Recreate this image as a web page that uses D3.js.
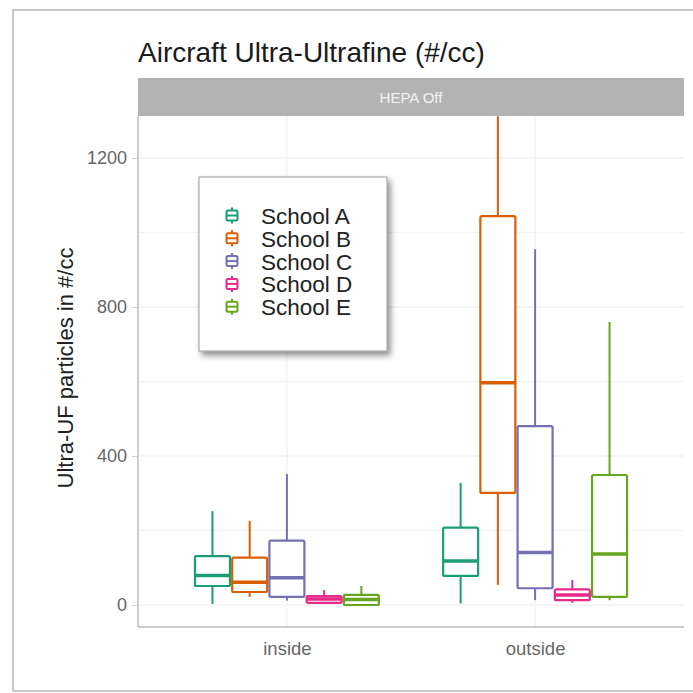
<!DOCTYPE html>
<html>
<head>
<meta charset="utf-8">
<script src="https://cdn.jsdelivr.net/npm/d3@7"></script>
<style>
  html, body { margin: 0; padding: 0; background: #fff; }
  svg { display: block; font-family: "Liberation Sans", Arial, sans-serif; }
</style>
</head>
<body>
<svg id="chart" width="693" height="693"></svg>
<script>
// Locations on the x axis and the schools dodged within each location
const locations = ["inside", "outside"];
const schools = ["School A", "School B", "School C", "School D", "School E"];
const schoolColors = ["#1B9E77", "#D95F02", "#7570B3", "#E7298A", "#66A61E"];

// Box statistics per school: [lower whisker, Q1, median, Q3, upper whisker]
const insideStats = [
  [3, 51, 79, 131, 252],
  [22, 35, 61, 127, 226],
  [12, 22, 73, 173, 352],
  [3, 6, 16, 24, 40],
  [0, 0, 15, 27, 51]
];
const outsideStats = [
  [4, 78, 118, 208, 328],
  [54, 301, 597, 1044, 1312],
  [13, 45, 141, 480, 955],
  [6, 13, 27, 42, 67],
  [13, 22, 137, 349, 760]
];

const yTicks = [0, 400, 800, 1200];
const yMinorTicks = [200, 600, 1000];

const titleText = "Aircraft Ultra-Ultrafine (#/cc)";
const stripText = "HEPA Off";
const yAxisTitle = "Ultra-UF particles in #/cc";

const svg = d3.select("#chart");

// soft drop shadow for the legend box
const defs = svg.append("defs");
const sh = defs.append("filter").attr("id", "shadow")
  .attr("x", "-20%").attr("y", "-20%").attr("width", "150%").attr("height", "150%");
sh.append("feDropShadow").attr("dx", 3).attr("dy", 4).attr("stdDeviation", 3)
  .attr("flood-color", "#000").attr("flood-opacity", 0.45);

// outer frame
svg.append("rect").attr("x", 13).attr("y", 10).attr("width", 700).attr("height", 681)
  .attr("fill", "#fff").attr("stroke", "#c8c8c8").attr("stroke-width", 2);

// panel geometry
const panel = { left: 138, right: 684, top: 116, bottom: 627 };

const x = d3.scalePoint().domain(locations)
  .range([panel.left, panel.right]).padding(0.6);
const dodge = d3.scaleBand().domain(schools)
  .range([-x.step() * 0.375, x.step() * 0.375]);
const y = d3.scaleLinear().domain([-59, 1312.8]).range([panel.bottom, panel.top]);

// title
svg.append("text").attr("x", panel.left).attr("y", 62)
  .attr("font-size", 28).attr("fill", "#1a1a1a").text(titleText);

// facet strip
svg.append("rect").attr("x", panel.left).attr("y", 78)
  .attr("width", panel.right - panel.left).attr("height", panel.top - 78)
  .attr("fill", "#b3b3b3");
svg.append("text").attr("x", (panel.left + panel.right) / 2).attr("y", 103)
  .attr("text-anchor", "middle").attr("font-size", 15).attr("fill", "#f2f2f2")
  .text(stripText);

// gridlines
const grid = svg.append("g");
grid.selectAll("line.minor").data(yMinorTicks).join("line")
  .attr("x1", panel.left).attr("x2", panel.right)
  .attr("y1", d => y(d)).attr("y2", d => y(d))
  .attr("stroke", "#f3f3f3").attr("stroke-width", 1);
grid.selectAll("line.major").data(yTicks).join("line")
  .attr("x1", panel.left).attr("x2", panel.right)
  .attr("y1", d => y(d)).attr("y2", d => y(d))
  .attr("stroke", "#ebebeb").attr("stroke-width", 1.2);
grid.selectAll("line.vx").data(locations).join("line")
  .attr("x1", d => x(d)).attr("x2", d => x(d))
  .attr("y1", panel.top).attr("y2", panel.bottom)
  .attr("stroke", "#f1f1f1").attr("stroke-width", 1.2);

// y axis
const yAxis = svg.append("g").attr("transform", `translate(${panel.left},0)`)
  .call(d3.axisLeft(y).tickValues(yTicks).tickFormat(d3.format("d"))
    .tickSize(6).tickPadding(5));
yAxis.select(".domain").attr("stroke", "#bdbdbd").attr("stroke-width", 1.5)
  .attr("d", `M0,${panel.top}V${panel.bottom}`);
yAxis.selectAll(".tick line").attr("stroke", "#cfcfcf");
yAxis.selectAll(".tick text").attr("font-size", 18).attr("fill", "#666")
  .attr("font-family", "Liberation Sans, Arial, sans-serif");

// x axis
const xAxis = svg.append("g").attr("transform", `translate(0,${panel.bottom})`)
  .call(d3.axisBottom(x).tickSize(0));
xAxis.select(".domain").attr("stroke", "#bdbdbd").attr("stroke-width", 1.5)
  .attr("d", `M${panel.left},0H${panel.right}`);
xAxis.selectAll(".tick text").attr("font-size", 18.5).attr("fill", "#666")
  .attr("y", 28).attr("dy", 0)
  .attr("font-family", "Liberation Sans, Arial, sans-serif");

// y axis title
svg.append("text")
  .attr("transform", `translate(73,368) rotate(-90)`)
  .attr("text-anchor", "middle").attr("font-size", 22).attr("fill", "#222")
  .text(yAxisTitle);

// boxplots
const statsByLocation = { inside: insideStats, outside: outsideStats };
const boxW = dodge.bandwidth() * 0.94;
const plot = svg.append("g");
locations.forEach(loc => {
  const g = plot.append("g");
  statsByLocation[loc].forEach((s, i) => {
    const cx = x(loc) + dodge(schools[i]) + dodge.bandwidth() / 2;
    const col = schoolColors[i];
    const [lo, q1, med, q3, hi] = s;
    g.append("line").attr("x1", cx).attr("x2", cx).attr("y1", y(hi)).attr("y2", y(q3))
      .attr("stroke", col).attr("stroke-width", 2);
    g.append("line").attr("x1", cx).attr("x2", cx).attr("y1", y(q1)).attr("y2", y(lo))
      .attr("stroke", col).attr("stroke-width", 2);
    g.append("rect").attr("x", cx - boxW / 2).attr("y", y(q3))
      .attr("width", boxW).attr("height", Math.max(1, y(q1) - y(q3)))
      .attr("fill", "#fff").attr("stroke", col).attr("stroke-width", 2.2)
      .attr("rx", 1.5);
    g.append("line").attr("x1", cx - boxW / 2).attr("x2", cx + boxW / 2)
      .attr("y1", y(med)).attr("y2", y(med))
      .attr("stroke", col).attr("stroke-width", 3.5);
  });
});

// legend
const legend = svg.append("g").attr("transform", "translate(199,177)");
legend.append("rect").attr("width", 188).attr("height", 174)
  .attr("fill", "#fff").attr("stroke", "#9a9a9a").attr("stroke-width", 1)
  .attr("filter", "url(#shadow)");
schools.forEach((name, i) => {
  const row = legend.append("g").attr("transform", `translate(33,${38.5 + i * 22.8})`);
  const col = schoolColors[i];
  row.append("line").attr("x1", 0).attr("x2", 0).attr("y1", -8).attr("y2", 8)
    .attr("stroke", col).attr("stroke-width", 2);
  row.append("rect").attr("x", -5.5).attr("y", -5).attr("width", 11).attr("height", 10)
    .attr("fill", "#fff").attr("stroke", col).attr("stroke-width", 2).attr("rx", 1.5);
  row.append("line").attr("x1", -5.5).attr("x2", 5.5).attr("y1", 0).attr("y2", 0)
    .attr("stroke", col).attr("stroke-width", 2);
  row.append("text").attr("x", 29).attr("y", 8.5).attr("font-size", 22.5)
    .attr("fill", "#222").text(name);
});
</script>
</body>
</html>
